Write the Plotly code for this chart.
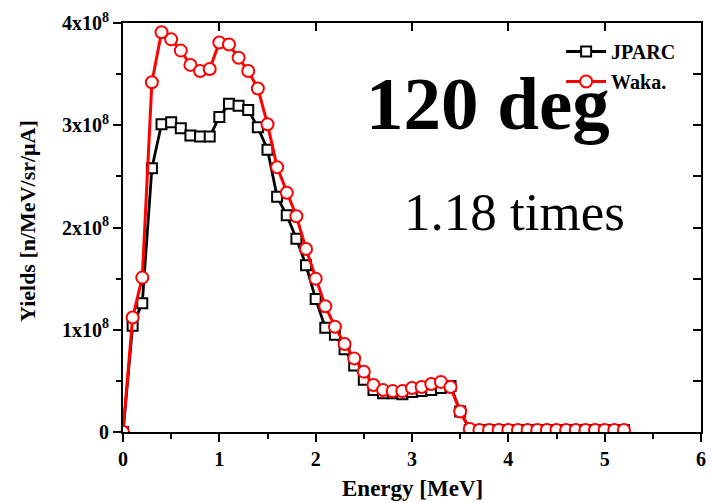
import plotly.graph_objects as go

energy = [0.0, 0.1, 0.2, 0.3, 0.4, 0.5, 0.6, 0.7, 0.8, 0.9,
          1.0, 1.1, 1.2, 1.3, 1.4, 1.5, 1.6, 1.7, 1.8, 1.9,
          2.0, 2.1, 2.2, 2.3, 2.4, 2.5, 2.6, 2.7, 2.8, 2.9,
          3.0, 3.1, 3.2, 3.3, 3.4, 3.5, 3.6, 3.7, 3.8, 3.9,
          4.0, 4.1, 4.2, 4.3, 4.4, 4.5, 4.6, 4.7, 4.8, 4.9,
          5.0, 5.1, 5.2]

jparc_e8 = [0.0, 1.04, 1.26, 2.58, 3.01, 3.03, 2.97, 2.90, 2.89, 2.89,
            3.08, 3.21, 3.19, 3.15, 2.98, 2.76, 2.30, 2.12, 1.89, 1.63,
            1.30, 1.02, 0.95, 0.81, 0.65, 0.51, 0.41, 0.38, 0.38, 0.37,
            0.39, 0.40, 0.41, 0.43, 0.45, 0.20, 0.02, 0.02, 0.02, 0.02,
            0.02, 0.02, 0.02, 0.02, 0.02, 0.02, 0.02, 0.02, 0.02, 0.02,
            0.02, 0.02, 0.02]

waka_e8 = [0.0, 1.12, 1.51, 3.42, 3.91, 3.84, 3.73, 3.59, 3.53, 3.55,
           3.81, 3.79, 3.66, 3.53, 3.36, 3.01, 2.59, 2.34, 2.11, 1.79,
           1.50, 1.23, 1.03, 0.86, 0.72, 0.59, 0.46, 0.41, 0.40, 0.40,
           0.43, 0.44, 0.47, 0.49, 0.44, 0.20, 0.03, 0.02, 0.02, 0.02,
           0.02, 0.02, 0.02, 0.02, 0.02, 0.02, 0.02, 0.02, 0.02, 0.02,
           0.02, 0.02, 0.02]

y_tickvals = [0, 1e8, 2e8, 3e8, 4e8]
y_ticktext = ["0", "1x10<sup>8</sup>", "2x10<sup>8</sup>", "3x10<sup>8</sup>", "4x10<sup>8</sup>"]
x_tickvals = [0, 1, 2, 3, 4, 5, 6]

jparc = [v * 1e8 for v in jparc_e8]
waka = [v * 1e8 for v in waka_e8]

FONT = "Liberation Serif"

fig = go.Figure()
fig.add_trace(go.Scatter(
    x=energy, y=jparc, name="JPARC", mode="lines+markers", legendgroup="a",
    line=dict(color="black", width=2.8),
    marker=dict(symbol="square", size=10, color="white",
                line=dict(color="black", width=2)),
))
fig.add_trace(go.Scatter(
    x=energy, y=waka, name="Waka.", mode="lines+markers", legendgroup="b",
    line=dict(color="#ff0000", width=3),
    marker=dict(symbol="circle", size=12, color="white",
                line=dict(color="#ff0000", width=2)),
))
# invisible trace to activate mirrored top/right axes with inward ticks
fig.add_trace(go.Scatter(x=[0], y=[0], xaxis="x2", yaxis="y2", mode="markers",
                         marker=dict(opacity=0), showlegend=False, hoverinfo="skip"))

tickfont = dict(family=FONT, size=20, color="black", weight="bold")

fig.update_layout(
    width=711, height=503,
    margin=dict(l=123, r=10, t=23, b=71),
    paper_bgcolor="white", plot_bgcolor="white",
    showlegend=True,
    legend=dict(x=0.758, y=0.978, xanchor="left", yanchor="top",
                bgcolor="rgba(0,0,0,0)", borderwidth=0,
                font=dict(family=FONT, size=20, color="black", weight="bold"),
                itemwidth=40, tracegroupgap=1, traceorder="grouped"),
    xaxis=dict(range=[0, 6], tickvals=x_tickvals, ticks="outside", ticklen=8,
               tickwidth=2, tickcolor="black", showline=True, linecolor="black",
               linewidth=2, showgrid=False, zeroline=False, tickfont=tickfont,
               automargin=False,
               minor=dict(dtick=0.5, ticks="outside", ticklen=5, tickwidth=2, tickcolor="black")),
    yaxis=dict(range=[0, 4e8], tickvals=y_tickvals, ticktext=y_ticktext, ticks="outside",
               ticklen=8, tickwidth=2, tickcolor="black", showline=True, linecolor="black",
               linewidth=2, showgrid=False, zeroline=False, tickfont=tickfont,
               automargin=False,
               minor=dict(dtick=0.5e8, ticks="outside", ticklen=5, tickwidth=2, tickcolor="black")),
    xaxis2=dict(range=[0, 6], overlaying="x", side="top", tickvals=x_tickvals, ticks="inside",
                ticklen=8, tickwidth=2, tickcolor="black", showticklabels=False,
                showline=True, linecolor="black", linewidth=2, showgrid=False, zeroline=False),
    yaxis2=dict(range=[0, 4e8], overlaying="y", side="right", tickvals=[0.5e8 * i for i in range(9)],
                ticks="inside", ticklen=8, tickwidth=2, tickcolor="black", showticklabels=False,
                showline=True, linecolor="black", linewidth=2, showgrid=False, zeroline=False),
)

# axis titles
fig.add_annotation(text="<b>Energy [MeV]</b>", xref="paper", yref="paper", x=0.5, y=-0.137,
                   xanchor="center", yanchor="middle", showarrow=False,
                   font=dict(family=FONT, size=23, color="black"))
fig.add_annotation(text="<b>Yields [n/MeV/sr/μA]</b>", xref="paper", yref="paper", x=-0.1644, y=0.516,
                   xanchor="center", yanchor="middle", showarrow=False, textangle=-90,
                   font=dict(family=FONT, size=22, color="black"))

fig.add_annotation(text="<b>120 deg</b>", xref="paper", yref="paper", x=0.631, y=0.804,
                   xanchor="center", yanchor="middle", showarrow=False,
                   font=dict(family=FONT, size=75, color="black"))
fig.add_annotation(text="1.18 times", xref="paper", yref="paper", x=0.678, y=0.538,
                   xanchor="center", yanchor="middle", showarrow=False,
                   font=dict(family=FONT, size=53, color="black"))

fig.write_html("out.html")
